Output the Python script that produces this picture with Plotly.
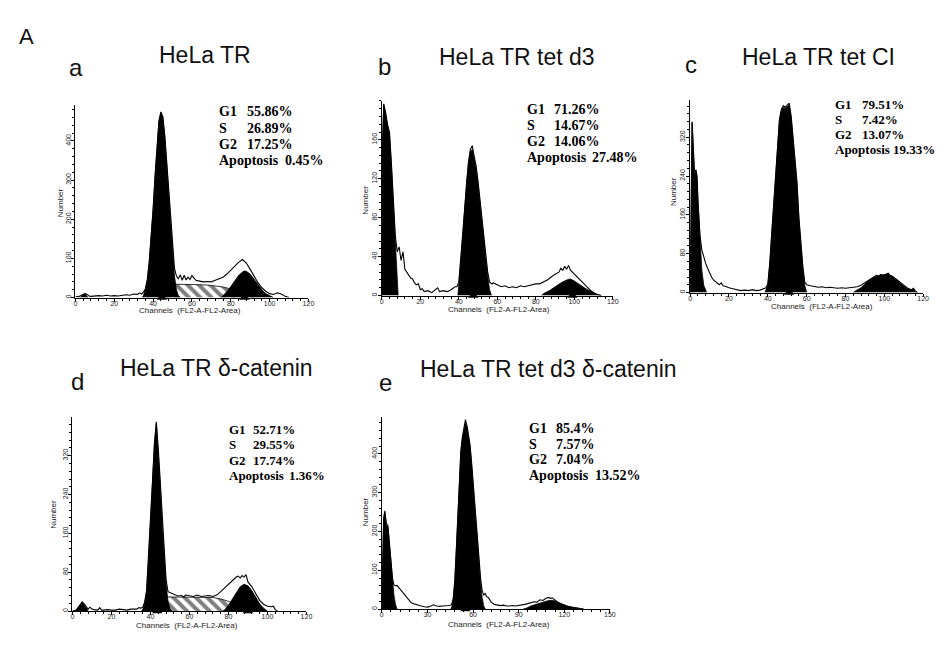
import plotly.graph_objects as go

# page is 948x649; the html body keeps an 8px margin, so the figure is drawn 8px smaller
PAGE_W, PAGE_H, BODY = 948, 649, 8
W, H = PAGE_W - BODY, PAGE_H - BODY

# ---------------- data (channel, count) ----------------
# Panel a : HeLa TR
A_OUTLINE = [(0, 2), (2, 3), (3, 6), (4, 9), (5, 10), (6, 8), (7, 4), (8, 3), (10, 4), (12, 5), (14, 4),
             (16, 6), (18, 4), (20, 5), (22, 4), (24, 6), (26, 7), (28, 6), (30, 9), (32, 8), (33, 12),
             (34, 9), (35, 14), (36, 22), (37, 45), (38, 90), (39, 150), (40, 225), (41, 310), (42, 390),
             (43, 450), (44, 474), (45, 462), (46, 415), (47, 345), (48, 268), (49, 190), (50, 125),
             (51, 75), (52, 55), (53, 48), (54, 58), (55, 44), (56, 57), (57, 45), (58, 52), (59, 46),
             (60, 56), (62, 44), (64, 42), (66, 40), (68, 41), (70, 40), (72, 44), (74, 48), (76, 52),
             (78, 60), (80, 70), (82, 82), (84, 90), (86, 97), (87, 92), (88, 88), (90, 72), (92, 55),
             (94, 38), (96, 25), (98, 16), (100, 10), (102, 8), (104, 12), (106, 9), (108, 3), (110, 0)]
A_APO = [(2.5, 0), (3.5, 6), (4.5, 10), (5.5, 6), (6.5, 0)]
A_G1 = [(34.5, 0), (35, 5), (36, 20), (37, 45), (38, 90), (39, 150), (40, 225), (41, 310), (42, 390),
        (43, 450), (44, 472), (45, 460), (46, 410), (47, 340), (48, 260), (49, 180), (50, 110),
        (51, 55), (52, 20), (53, 5), (54, 0)]
A_S = [(42, 0), (44, 28), (51, 34), (56, 34), (62, 33), (68, 32), (72, 30), (76, 27), (80, 22),
       (84, 15), (88, 8), (92, 0)]
A_G2 = [(75, 0), (76, 5), (78, 15), (80, 28), (82, 42), (84, 56), (86, 65), (87, 68), (88, 67),
        (90, 60), (92, 47), (94, 32), (96, 20), (98, 10), (100, 4), (102, 0)]
A_MARKS = [44.5, 87]
A_STATS = [("G1", "55.86%"), ("S", "26.89%"), ("G2", "17.25%"), ("Apoptosis", "0.45%")]

# Panel b : HeLa TR tet d3
B_OUTLINE = [(0, 0), (0.3, 150), (1, 197), (2, 188), (3, 175), (4, 168), (5, 135), (6, 100), (7, 62),
             (8, 45), (9, 50), (10, 36), (11, 45), (12, 27), (13, 24), (14, 21), (15, 18), (16, 17),
             (17, 13), (18, 11), (19, 12), (20, 6), (21, 7), (22, 4), (24, 5), (26, 3), (28, 6), (29, 8),
             (30, 4), (32, 5), (34, 4), (36, 6), (38, 9), (39, 9), (40, 14), (41, 38), (42, 63), (43, 95),
             (44, 118), (45, 137), (46, 150), (47, 154), (48, 143), (49, 133), (50, 117), (51, 98),
             (52, 78), (53, 58), (54, 38), (55, 24), (56, 14), (57, 12), (58, 13), (60, 11), (62, 9),
             (64, 10), (66, 8), (68, 9), (70, 8), (72, 10), (74, 9), (76, 10), (78, 11), (80, 12),
             (82, 12), (84, 14), (86, 16), (88, 19), (90, 22), (92, 24), (93, 28), (94, 26), (95, 30),
             (96, 27), (97, 31), (98, 26), (100, 22), (102, 18), (104, 13), (106, 9), (108, 6),
             (110, 3), (112, 1), (114, 0)]
B_APO = [(0, 0), (0.3, 150), (1, 196), (2, 186), (3, 172), (4, 165), (5, 132), (6, 96), (7, 52),
         (8, 12), (8.5, 0)]
B_G1 = [(39.5, 0), (40, 10), (41, 35), (42, 60), (43, 92), (44, 116), (45, 135), (46, 148), (47, 150),
        (48, 140), (49, 130), (50, 114), (51, 95), (52, 75), (53, 57), (54, 36), (55, 20), (56, 6),
        (57, 0)]
B_S = []
B_G2 = [(83, 0), (84, 2), (87, 5), (90, 9), (93, 13), (96, 16), (98, 17), (100, 15), (103, 11),
        (106, 7), (109, 4), (112, 1), (114, 0)]
B_MARKS = [47.5, 99]
B_STATS = [("G1", "71.26%"), ("S", "14.67%"), ("G2", "14.06%"), ("Apoptosis", "27.48%")]

# Panel c : HeLa TR tet CI
C_OUTLINE = [(0, 0), (0.5, 150), (1, 352), (1.7, 290), (2.2, 250), (3, 252), (3.5, 240), (4, 190),
             (5, 120), (6, 88), (7, 72), (8, 60), (9, 50), (10, 40), (11, 32), (12, 26), (13, 22),
             (14, 18), (15, 16), (16, 20), (17, 14), (18, 13), (19, 11), (20, 10), (22, 8), (24, 6),
             (26, 4), (28, 5), (30, 4), (32, 6), (34, 4), (36, 5), (38, 8), (39, 10), (40, 18),
             (41, 60), (42, 122), (43, 187), (44, 252), (45, 318), (46, 358), (47, 378), (48, 385),
             (49, 382), (50, 387), (51, 390), (52, 364), (53, 323), (54, 283), (55, 228), (56, 155),
             (57, 100), (58, 55), (59, 22), (60, 16), (62, 14), (64, 12), (66, 11), (68, 12), (70, 10),
             (72, 11), (74, 10), (76, 9), (78, 10), (80, 9), (82, 10), (84, 11), (86, 12), (88, 15),
             (90, 20), (92, 26), (94, 31), (96, 36), (97, 33), (98, 37), (100, 36), (102, 40),
             (103, 35), (104, 34), (106, 28), (108, 21), (110, 14), (112, 9), (114, 6), (115, 9),
             (116, 3), (117, 0)]
C_APO = [(0, 0), (0.5, 200), (1, 350), (1.7, 290), (2.2, 245), (3, 250), (3.5, 240), (4, 190),
         (5, 108), (6, 47), (7, 15), (8, 2), (8.5, 0)]
C_G1 = [(38.5, 0), (39, 5), (40, 15), (41, 60), (42, 120), (43, 185), (44, 250), (45, 315), (46, 355),
        (47, 375), (48, 382), (49, 380), (50, 384), (51, 386), (52, 360), (53, 320), (54, 280),
        (55, 225), (56, 150), (57, 95), (58, 50), (59, 15), (60, 0)]
C_S = []
C_G2 = [(84, 0), (85, 3), (88, 10), (90, 18), (92, 25), (94, 30), (96, 34), (98, 35), (100, 36),
        (102, 38), (104, 33), (106, 27), (108, 20), (110, 13), (112, 8), (114, 5), (115, 8),
        (116, 2), (117, 0)]
C_MARKS = [51]
C_STATS = [("G1", "79.51%"), ("S", "7.42%"), ("G2", "13.07%"), ("Apoptosis", "19.33%")]

# Panel d : HeLa TR δ-catenin
D_OUTLINE = [(0, 0), (2, 2), (3, 8), (4, 15), (5, 19), (6, 15), (7, 8), (8, 4), (9, 8), (10, 4),
             (11, 3), (12, 3), (13, 2), (14, 7), (15, 2), (16, 2), (18, 3), (20, 2), (22, 2), (24, 4),
             (26, 3), (28, 2), (30, 4), (32, 5), (33, 4), (34, 7), (35, 6), (36, 8), (37, 18), (38, 42),
             (39, 108), (40, 183), (41, 264), (42, 344), (43, 390), (44, 336), (45, 266), (46, 186),
             (47, 117), (48, 65), (49, 40), (50, 38), (52, 34), (54, 31), (56, 32), (57, 29), (58, 33),
             (60, 32), (62, 30), (64, 33), (66, 30), (68, 31), (70, 32), (72, 30), (74, 33), (76, 40),
             (78, 48), (80, 56), (82, 63), (84, 70), (85, 72), (86, 68), (87, 73), (88, 70), (89, 75),
             (90, 60), (92, 50), (94, 36), (96, 22), (98, 14), (100, 10), (102, 9), (103, 10),
             (104, 3), (105, 0)]
D_APO = [(1.5, 0), (3, 8), (4, 14), (5, 18), (6, 13), (7, 6), (8, 0)]
D_G1 = [(35.5, 0), (36, 3), (37, 15), (38, 40), (39, 105), (40, 180), (41, 260), (42, 340), (43, 385),
        (44, 330), (45, 260), (46, 180), (47, 110), (48, 55), (49, 20), (50, 5), (51, 0)]
D_S = [(41, 0), (44, 26), (49, 29), (54, 29), (60, 28), (66, 28), (72, 28), (76, 25), (80, 20),
       (84, 13), (88, 6), (92, 0)]
D_G2 = [(77, 0), (78, 2), (80, 12), (82, 25), (84, 38), (86, 50), (88, 55), (90, 52), (92, 42),
        (94, 28), (96, 15), (98, 6), (100, 0)]
D_MARKS = [43.5, 90]
D_STATS = [("G1", "52.71%"), ("S", "29.55%"), ("G2", "17.74%"), ("Apoptosis", "1.36%")]

# Panel e : HeLa TR tet d3 δ-catenin
E_OUTLINE = [(0, 0), (0.5, 155), (1.2, 235), (2, 253), (3, 220), (4, 215), (5, 172), (6, 115), (7, 80),
             (8, 62), (9, 60), (10, 61), (11, 56), (12, 52), (13, 46), (14, 40), (15, 35), (16, 30),
             (17, 26), (18, 22), (19, 18), (20, 15), (22, 12), (24, 10), (26, 8), (28, 6), (30, 5),
             (32, 7), (34, 11), (36, 8), (38, 7), (40, 8), (42, 8), (44, 9), (45, 10), (46, 12),
             (47, 28), (48, 72), (49, 152), (50, 233), (51, 332), (52, 408), (53, 444), (54, 463),
             (55, 488), (56, 473), (57, 451), (58, 424), (59, 380), (60, 326), (61, 272), (62, 214),
             (63, 160), (64, 115), (65, 78), (66, 48), (67, 36), (68, 40), (69, 32), (70, 30), (71, 24),
             (72, 18), (74, 12), (76, 10), (78, 9), (80, 10), (82, 8), (84, 8), (86, 9), (88, 8),
             (90, 9), (92, 10), (94, 12), (96, 14), (98, 16), (100, 19), (102, 18), (104, 24),
             (106, 22), (108, 28), (110, 30), (111, 27), (112, 29), (114, 22), (116, 17), (118, 13),
             (120, 9), (122, 7), (124, 5), (126, 4), (128, 2), (130, 1), (132, 0)]
E_APO = [(0, 0), (0.5, 150), (1.2, 230), (2, 248), (3, 215), (4, 212), (5, 170), (6, 110), (7, 69),
         (8, 35), (9, 12), (10, 0)]
E_G1 = [(45.5, 0), (46, 5), (47, 25), (48, 70), (49, 150), (50, 231), (51, 330), (52, 405), (53, 440),
        (54, 460), (55, 478), (56, 470), (57, 448), (58, 420), (59, 375), (60, 320), (61, 265),
        (62, 206), (63, 150), (64, 105), (65, 65), (66, 30), (67, 8), (68, 0)]
E_S = []
E_G2 = [(93, 0), (95, 2), (98, 8), (101, 12), (104, 16), (107, 19), (110, 22), (113, 22), (116, 17),
        (119, 12), (122, 8), (125, 5), (128, 3), (131, 1), (133, 0)]
E_MARKS = [55]
E_STATS = [("G1", "85.4%"), ("S", "7.57%"), ("G2", "7.04%"), ("Apoptosis", "13.52%")]

X_TICKS_120 = [0, 20, 40, 60, 80, 100, 120]
X_TICKS_150 = [0, 30, 60, 90, 120, 150]
Y_TICKS_A = [0, 100, 200, 300, 400]
Y_TICKS_B = [0, 40, 80, 120, 160]
Y_TICKS_C = [0, 80, 160, 240, 320]
Y_TICKS_D = [0, 80, 160, 240, 320]
Y_TICKS_E = [0, 100, 200, 300, 400]

TITLES = ["HeLa TR", "HeLa TR tet d3", "HeLa TR tet CI", "HeLa TR δ-catenin", "HeLa TR tet d3 δ-catenin"]
LETTERS = ["a", "b", "c", "d", "e"]
X_TITLE = "Channels  (FL2-A-FL2-Area)"
Y_TITLE = "Number"

# ---------------- layout (page-pixel geometry) ----------------
panels = [
    dict(data=(A_OUTLINE, A_APO, A_G1, A_S, A_G2, A_MARKS, A_STATS), px=(74, 309), py=(105, 298),
         xr=[0, 120], yr=[0, 492], xt=X_TICKS_120, yt=Y_TICKS_A, xm=4, ym=20,
         title=(205, 55), letter=(75, 68), num=(59, 203), chan=(190, 311),
         stats=(218, 246, 284, 112, 16.3), sfont=14),
    dict(data=(B_OUTLINE, B_APO, B_G1, B_S, B_G2, B_MARKS, B_STATS), px=(383, 616), py=(101, 296),
         xr=[0, 120], yr=[0, 200], xt=X_TICKS_120, yt=Y_TICKS_B, xm=4, ym=8,
         title=(519, 57), letter=(386, 67), num=(367, 200), chan=(501, 310),
         stats=(528, 556, 594, 110, 16), sfont=14),
    dict(data=(C_OUTLINE, C_APO, C_G1, C_S, C_G2, C_MARKS, C_STATS), px=(694, 929), py=(100, 293),
         xr=[0, 120], yr=[0, 397], xt=X_TICKS_120, yt=Y_TICKS_C, xm=4, ym=16,
         title=(823, 57), letter=(695, 65), num=(677, 192), chan=(827, 307),
         stats=(839, 866, 898, 105, 15), sfont=13),
    dict(data=(D_OUTLINE, D_APO, D_G1, D_S, D_G2, D_MARKS, D_STATS), px=(71, 307), py=(418, 612),
         xr=[0, 120], yr=[0, 399], xt=X_TICKS_120, yt=Y_TICKS_D, xm=4, ym=16,
         title=(216, 369), letter=(76, 382), num=(52, 515), chan=(187, 626),
         stats=(228, 252, 288, 430, 15.5), sfont=13),
    dict(data=(E_OUTLINE, E_APO, E_G1, E_S, E_G2, E_MARKS, E_STATS), px=(383, 613), py=(418, 610),
         xr=[0, 150], yr=[0, 494], xt=X_TICKS_150, yt=Y_TICKS_E, xm=6, ym=20,
         title=(551, 370), letter=(387, 383), num=(366, 512), chan=(501, 625),
         stats=(530, 558, 597, 429, 15.7), sfont=14),
]


def fx(px):
    return (px - BODY) / W


def fy(py):
    return 1 - (py - BODY) / H


def split(pairs):
    return [p[0] for p in pairs], [p[1] for p in pairs]


fig = go.Figure()
annotations = []
layout_axes = {}
SANS = "Liberation Sans, Arial, sans-serif"
SERIF = "Liberation Serif, Times New Roman, serif"

for i, p in enumerate(panels):
    n = "" if i == 0 else str(i + 1)
    xa, ya = "x" + n, "y" + n
    outline, apo, g1, s, g2, marks, stats = p["data"]

    if s:
        sx, sy = split(s)
        fig.add_trace(go.Scatter(x=sx, y=sy, xaxis=xa, yaxis=ya, mode="lines", fill="tozeroy",
                                 line=dict(color="black", width=0.8), fillcolor="white",
                                 fillpattern=dict(shape="\\", fgcolor="black", bgcolor="white",
                                                  size=8, solidity=0.5),
                                 hoverinfo="skip", showlegend=False))
    for part in (g1, g2, apo):
        if part:
            gx, gy = split(part)
            fig.add_trace(go.Scatter(x=gx, y=gy, xaxis=xa, yaxis=ya, mode="lines", fill="tozeroy",
                                     line=dict(color="black", width=0.8), fillcolor="black",
                                     hoverinfo="skip", showlegend=False))
    ox, oy = split(outline)
    fig.add_trace(go.Scatter(x=ox, y=oy, xaxis=xa, yaxis=ya, mode="lines",
                             line=dict(color="black", width=1.1), showlegend=False))
    fig.add_trace(go.Scatter(x=marks, y=[0] * len(marks), xaxis=xa, yaxis=ya, mode="markers",
                             marker=dict(symbol="triangle-up", size=9, color="black"),
                             cliponaxis=False, showlegend=False))

    common = dict(showline=True, linecolor="black", linewidth=1, showgrid=False, zeroline=False,
                  ticks="outside", ticklen=3, tickwidth=1, tickcolor="black",
                  tickfont=dict(family=SANS, size=7, color="#222"))
    layout_axes["xaxis" + n] = dict(common, domain=[fx(p["px"][0]), fx(p["px"][1])], range=p["xr"],
                                    tickvals=p["xt"], anchor=ya, ticklabelstandoff=-4,
                                    minor=dict(dtick=p["xm"], ticks="outside", ticklen=2,
                                               tickcolor="black"))
    layout_axes["yaxis" + n] = dict(common, domain=[fy(p["py"][1]), fy(p["py"][0])], range=p["yr"],
                                    tickvals=p["yt"], tickangle=-90, anchor=xa, ticklabelstandoff=-2,
                                    minor=dict(dtick=p["ym"], ticks="outside", ticklen=2,
                                               tickcolor="black"))

    # titles / letters / axis titles
    tx, ty = p["title"]
    annotations.append(dict(text=TITLES[i], x=fx(tx), y=fy(ty), xref="paper", yref="paper",
                            showarrow=False, xanchor="center", yanchor="middle",
                            font=dict(family=SANS, size=23, color="#111")))
    lx, ly = p["letter"]
    annotations.append(dict(text=LETTERS[i], x=fx(lx), y=fy(ly), xref="paper", yref="paper",
                            showarrow=False, xanchor="center", yanchor="middle",
                            font=dict(family=SANS, size=24, color="#111")))
    nx, ny = p["num"]
    annotations.append(dict(text=Y_TITLE, x=fx(nx), y=fy(ny), xref="paper", yref="paper",
                            showarrow=False, textangle=-90, xanchor="center", yanchor="middle",
                            font=dict(family=SANS, size=8, color="#222")))
    cx, cy = p["chan"]
    annotations.append(dict(text=X_TITLE, x=fx(cx), y=fy(cy), xref="paper", yref="paper",
                            showarrow=False, xanchor="center", yanchor="middle",
                            font=dict(family=SANS, size=8, color="#222")))

    # statistics text
    c0, c1, c2, y0, dy = p["stats"]
    for k, (lab, val) in enumerate(stats):
        yy = y0 + k * dy
        annotations.append(dict(text="<b>" + lab + "</b>", x=fx(c0), y=fy(yy), xref="paper",
                                yref="paper", showarrow=False, xanchor="left", yanchor="middle",
                                borderpad=0,
                                font=dict(family=SERIF, size=p["sfont"], color="black")))
        vx = c2 if lab == "Apoptosis" else c1
        annotations.append(dict(text="<b>" + val + "</b>", x=fx(vx), y=fy(yy), xref="paper",
                                yref="paper", showarrow=False, xanchor="left", yanchor="middle",
                                borderpad=0,
                                font=dict(family=SERIF, size=p["sfont"], color="black")))

annotations.append(dict(text="A", x=fx(15), y=fy(37), xref="paper", yref="paper", showarrow=False,
                        xanchor="left", yanchor="middle", font=dict(family=SANS, size=22, color="#111")))

fig.update_layout(width=W, height=H, margin=dict(l=0, r=0, t=0, b=0), paper_bgcolor="white",
                  plot_bgcolor="white", showlegend=False, annotations=annotations, **layout_axes)

fig.write_html("out.html")
